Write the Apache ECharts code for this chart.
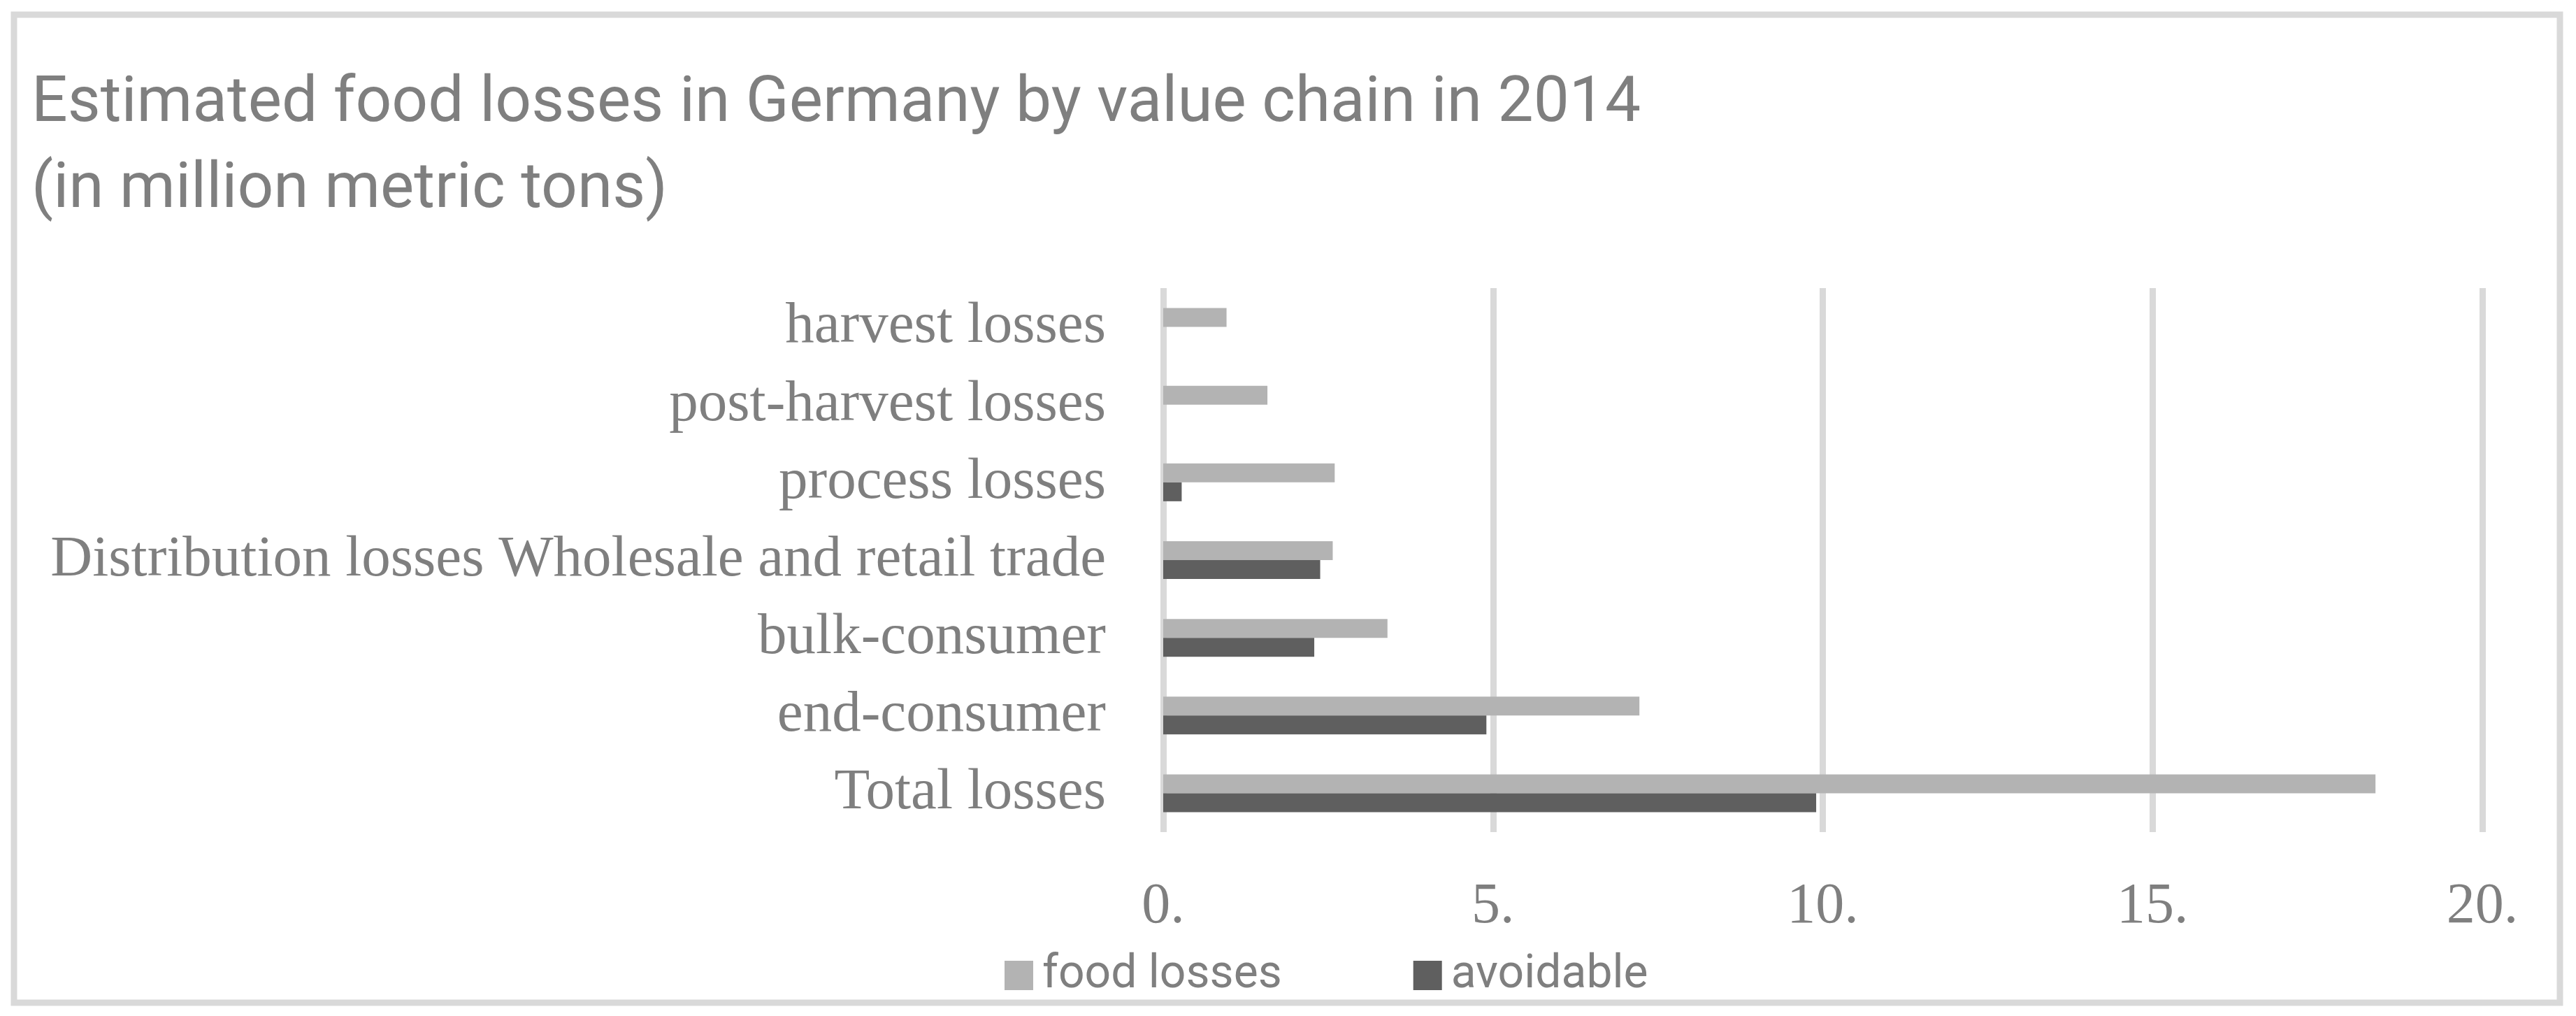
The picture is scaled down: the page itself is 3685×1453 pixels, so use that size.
<!DOCTYPE html>
<html>
<head>
<meta charset="utf-8">
<script src="https://cdn.jsdelivr.net/npm/echarts@6/dist/echarts.min.js"></script>
<style>
  html, body { margin: 0; padding: 0; background: #fff; }
  #main { width: 3685px; height: 1453px; }
</style>
</head>
<body>
<div id="main"></div>
<script>
var categories = ['harvest losses', 'post-harvest losses', 'process losses',
    'Distribution losses Wholesale and retail trade', 'bulk-consumer', 'end-consumer', 'Total losses'];
var foodLosses = [0.96, 1.58, 2.6, 2.57, 3.4, 7.22, 18.38];
var avoidable = [null, null, 0.28, 2.38, 2.29, 4.9, 9.9];
var xTicks = [0, 5, 10, 15, 20];

var myChart = echarts.init(document.getElementById('main'));
var gray = '#7f7f7f';
var option = {
    backgroundColor: '#fff',
    animation: false,
    title: {
        text: 'Estimated food losses in Germany by value chain in 2014\n(in million metric tons)',
        left: 40,
        top: 84,
        textStyle: {
            color: gray,
            fontFamily: 'Roboto',
            fontWeight: 'normal',
            fontSize: 91,
            lineHeight: 123
        }
    },
    graphic: [{
        type: 'rect',
        shape: { x: 20, y: 21, width: 3642, height: 1413 },
        style: { fill: 'none', stroke: '#d9d9d9', lineWidth: 9 }
    }],
    legend: {
        left: 1432,
        top: 1357,
        itemWidth: 41,
        itemHeight: 42,
        itemGap: 188,
        icon: 'rect',
        textStyle: { color: gray, fontFamily: 'Roboto', fontSize: 66, lineHeight: 42, padding: [0, 0, 0, 8] },
        data: ['food losses', 'avoidable']
    },
    grid: { left: 1664, right: 134, top: 412, bottom: 263 },
    xAxis: {
        type: 'value',
        min: xTicks[0],
        max: xTicks[xTicks.length - 1],
        interval: 5,
        axisLine: { show: false },
        axisTick: { show: false },
        splitLine: { lineStyle: { color: '#d9d9d9', width: 9 } },
        axisLabel: {
            color: gray,
            fontFamily: 'Liberation Serif',
            fontSize: 82,
            margin: 66,
            formatter: function (v) { return v + '.'; }
        }
    },
    yAxis: {
        type: 'category',
        inverse: true,
        data: categories,
        axisLine: { show: false },
        axisTick: { show: false },
        axisLabel: {
            color: gray,
            fontFamily: 'Liberation Serif',
            fontSize: 83,
            margin: 82
        }
    },
    series: [
        {
            name: 'food losses',
            type: 'bar',
            data: foodLosses,
            barWidth: 27,
            barGap: '0%',
            itemStyle: { color: '#b3b3b3' }
        },
        {
            name: 'avoidable',
            type: 'bar',
            data: avoidable,
            barWidth: 27,
            barGap: '0%',
            itemStyle: { color: '#5f5f5f' }
        }
    ]
};
myChart.setOption(option);
</script>
</body>
</html>
